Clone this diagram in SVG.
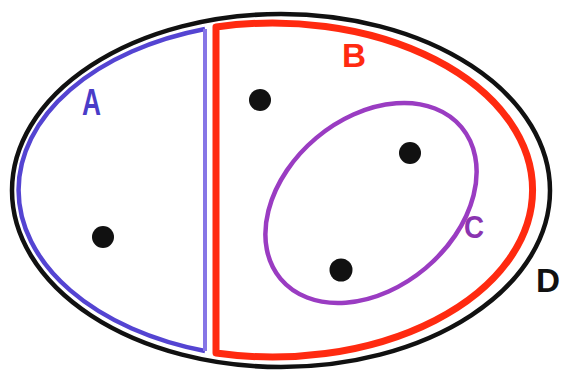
<svg xmlns="http://www.w3.org/2000/svg" width="561" height="373" viewBox="0 0 561 373">
<style>
.lbl{font-family:"Liberation Sans",Arial,sans-serif;font-weight:bold;}
.dot{fill:#111;}
</style>
<rect width="561" height="373" fill="#ffffff"/>
<g id="D">
<ellipse cx="281" cy="190.5" rx="269" ry="176.5" fill="none" stroke="#111" stroke-width="4.5"/>
<text class="lbl" x="536" y="292" font-size="34" fill="#111" textLength="24" lengthAdjust="spacingAndGlyphs">D</text>
</g>
<g id="A">
<path d="M205,29 A261,168 0 0 0 205,351" fill="none" stroke="#5444d2" stroke-width="4.5" stroke-linejoin="round"/>
<line x1="205" y1="29" x2="205" y2="351" stroke="#8676e6" stroke-width="4"/>
<text class="lbl" x="82" y="115" font-size="36" fill="#4a3cc8" textLength="19" lengthAdjust="spacingAndGlyphs">A</text>
<circle class="dot" cx="103" cy="237" r="11"/>
</g>
<g id="B">
<path d="M216,27 A260,167 0 1 1 216,353 Z" fill="none" stroke="#ff2a10" stroke-width="7" stroke-linejoin="round"/>
<text class="lbl" x="342" y="67" font-size="34" fill="#ff2a10" textLength="24" lengthAdjust="spacingAndGlyphs">B</text>
<circle class="dot" cx="260" cy="100" r="11"/>
</g>
<g id="C">
<ellipse cx="371" cy="203" rx="118" ry="85" transform="rotate(-40 371 203)" fill="none" stroke="#9a3cc2" stroke-width="4.5"/>
<text class="lbl" x="464" y="238" font-size="31" fill="#8a34b0" textLength="20" lengthAdjust="spacingAndGlyphs">C</text>
<circle class="dot" cx="410" cy="153" r="11"/>
<circle class="dot" cx="341" cy="270" r="11.5"/>
</g>
</svg>
